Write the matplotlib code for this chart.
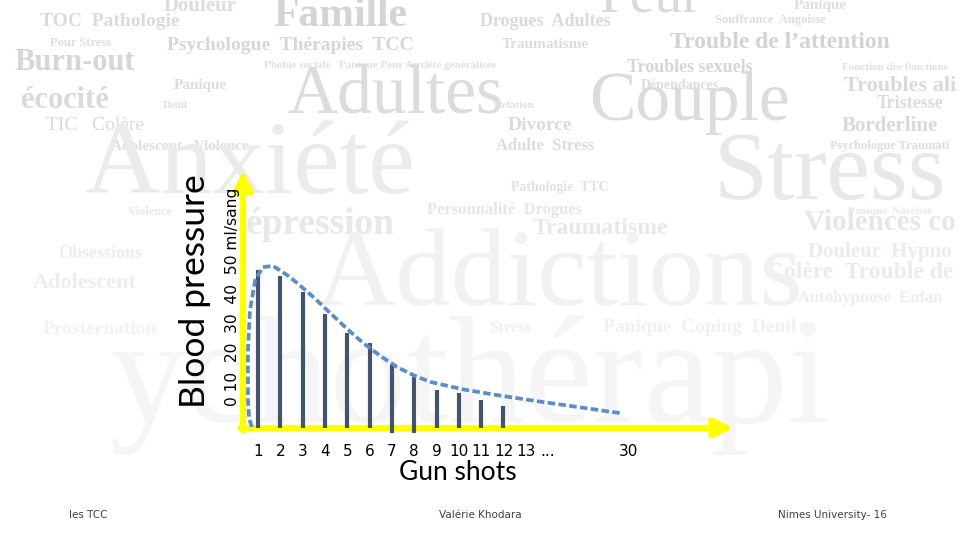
import matplotlib
matplotlib.use("Agg")
import matplotlib.pyplot as plt

# blood pressure after each gun shot (ml/sang)
shots = [1, 2, 3, 4, 5, 6, 7, 8, 9, 10, 11, 12]
pressure = [50, 48, 43, 36, 30, 27, 20, 16, 12, 11, 9, 7]
bar_base = [0, 0, 0, 0, 0, 0, -1.5, -1.5, 0, 0, 0, 0]

# dashed trend curve
curve_x = [0.73, 0.6, 0.55, 0.55, 0.64, 0.87, 1.22, 1.67, 2.3, 2.75, 3.5, 4.23,
           5.0, 5.71, 6.5, 7.23, 8.0, 8.71, 10.2, 11.72, 13.2, 14.68, 17.23]
curve_y = [0.3, 3.0, 8.9, 24.7, 37.3, 46.8, 50.9, 51.3, 48.4, 45.9, 41.3, 36.4,
           31.3, 26.9, 22.7, 19.3, 16.6, 14.6, 12.2, 10.4, 8.8, 7.3, 4.7]

tick_pos = [1, 2, 3, 4, 5, 6, 7, 8, 9, 10, 11, 12, 13, 14, 17.6]
tick_labels = ["1", "2", "3", "4", "5", "6", "7", "8", "9", "10", "11", "12", "13", "...", "30"]

# faint word cloud behind the slide (word, x, y, size, grey, bold)
words = [
    ("Douleur", 200, 6, 15, "#dcdcdc", True), ("Famille", 340, 16, 30, "#d4d4d4", True),
    ("Peur", 650, -2, 40, "#d9d9d9", False), ("Panique", 820, 6, 11, "#dedede", True),
    ("TOC  Pathologie", 110, 22, 14, "#dadada", True), ("Drogues  Adultes", 545, 22, 13, "#dadada", True),
    ("Souffrance  Angoisse", 770, 20, 9, "#dedede", True),
    ("Pour Stress", 80, 43, 9, "#dedede", True), ("Psychologue  Thérapies  TCC", 290, 45, 14, "#d6d6d6", True),
    ("Traumatisme", 545, 45, 11, "#dcdcdc", True), ("Trouble de l\u2019attention", 780, 42, 17, "#d3d3d3", True),
    ("Burn-out", 75, 62, 22, "#d6d6d6", True), ("Phobie sociale   Panique Peur Anxiété généralisée", 380, 66, 8, "#e0e0e0", True),
    ("Troubles sexuels", 690, 67, 13, "#d6d6d6", True), ("Fonction des fonctions", 895, 67, 8, "#e0e0e0", True),
    ("Panique", 200, 86, 11, "#dcdcdc", True), ("Dépendances", 680, 86, 10, "#dcdcdc", True),
    ("Troubles ali", 900, 86, 16, "#d9d9d9", True),
    ("Adultes", 395, 96, 50, "#dcdcdc", False), ("Couple", 690, 103, 50, "#dcdcdc", False),
    ("écocité", 65, 101, 22, "#dadada", True), ("Deuil", 175, 106, 8, "#e0e0e0", True),
    ("Tristesse", 910, 104, 13, "#dcdcdc", True), ("Relation", 515, 106, 8, "#e0e0e0", True),
    ("TIC   Colère", 95, 126, 14, "#dadada", False), ("Divorce", 540, 126, 14, "#dadada", True),
    ("Borderline", 890, 126, 15, "#d9d9d9", True),
    ("Adolescent   Violence", 180, 146, 11, "#dedede", True), ("Adulte  Stress", 545, 146, 12, "#dcdcdc", True),
    ("Psychologue Traumati", 890, 146, 9, "#dedede", True),
    ("Anxiété", 250, 168, 75, "#ebebeb", False), ("Stress", 830, 176, 70, "#e8e8e8", False),
    ("Pathologie  TTC", 560, 188, 10, "#e2e2e2", True),
    ("Personnalité  Drogues", 505, 210, 12, "#e6e6e6", True), ("Violence", 150, 212, 9, "#e8e8e8", True),
    ("Panique  Narcisse", 890, 212, 8, "#e8e8e8", True),
    ("épression", 320, 225, 27, "#e8e8e8", True), ("Traumatisme", 600, 228, 17, "#e8e8e8", True),
    ("Violences co", 880, 222, 21, "#e6e6e6", True),
    ("Obsessions", 100, 253, 13, "#ededed", True), ("Douleur  Hypno", 880, 252, 15, "#ebebeb", True),
    ("Adolescent", 85, 283, 16, "#ededed", True), ("Colère  Trouble de", 860, 272, 17, "#ebebeb", True),
    ("Addictions", 560, 278, 80, "#f1f1f1", False), ("Autohypnose  Enfan", 870, 298, 12, "#ededed", True),
    ("Stress", 510, 328, 12, "#f0f0f0", True), ("Panique  Coping  Deuil", 700, 328, 14, "#f0f0f0", True),
    ("Prosternation", 100, 330, 14, "#f2f2f2", True),
    ("ychothérapi", 470, 385, 110, "#f5f5f5", False),
]

plt.rcParams["font.family"] = ["DejaVu Sans"]
fig = plt.figure(figsize=(9.6, 5.4), dpi=100)
fig.patch.set_facecolor("white")

bg = fig.add_axes([0, 0, 1, 1], zorder=0)
bg.set_xlim(0, 960)
bg.set_ylim(540, 0)
bg.axis("off")
for w, x, y, s, c, b in words:
    bg.text(x, y, w, fontsize=s, color=c, family="Liberation Serif",
            weight="bold" if b else "normal", ha="center", va="center")

# axes placed so the yellow axes sit where they are on the slide
ax = fig.add_axes([243 / 960, 100 / 540, 497 / 960, 268 / 540], zorder=2)
ax.set_facecolor("none")
ax.set_xlim(0.327, 22.6)
ax.set_ylim(-3.8, 81)
for sp in ax.spines.values():
    sp.set_visible(False)

yellow = "#ffff00"
arrow = dict(arrowstyle="-|>,head_length=0.9,head_width=0.45",
             color=yellow, lw=4.5, mutation_scale=12, shrinkA=0, shrinkB=0)
ax.annotate("", xy=(22.3, 0), xytext=(0.2, 0), arrowprops=arrow, annotation_clip=False)
ax.annotate("", xy=(0.327, 81.5), xytext=(0.327, -0.7), arrowprops=arrow, annotation_clip=False)

ax.vlines(shots, bar_base, pressure, color="#44546a", lw=3.0, zorder=3)
ax.plot(curve_x, curve_y, color="#5b8ec8", lw=2.7, dashes=(2.0, 0.9), zorder=4,
        dash_capstyle="butt")

ax.set_xticks(tick_pos)
ax.set_xticklabels(tick_labels, fontsize=11)
ax.tick_params(axis="x", length=0, pad=3)
ax.set_yticks([])

fig.text(458 / 960, 1 - 473 / 540, "Gun shots", fontsize=19, family="Lato",
         ha="center", va="center")
fig.text(195 / 960, 1 - 291 / 540, "Blood pressure", fontsize=25.5, family="Lato",
         rotation=90, ha="center", va="center")
fig.text(232 / 960, 1 - 297 / 540, "0 10  20  30  40  50 ml/sang", fontsize=11.2,
         rotation=90, ha="center", va="center")

fig.text(88 / 960, 1 - 515 / 540, "les TCC", fontsize=7.5, color="#404040", ha="center", va="center")
fig.text(480 / 960, 1 - 515 / 540, "Valérie Khodara", fontsize=7.5, color="#404040", ha="center", va="center")
fig.text(887 / 960, 1 - 515 / 540, "Nimes University- 16", fontsize=7.5, color="#404040", ha="right", va="center")

fig.savefig("out.png", dpi=100, facecolor="white")
